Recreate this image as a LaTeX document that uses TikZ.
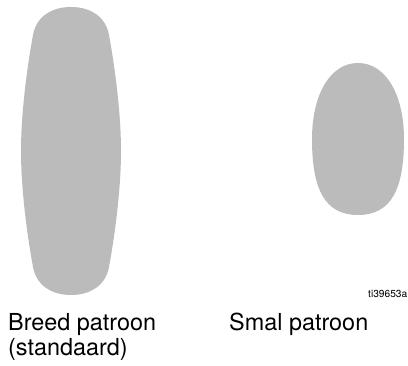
\documentclass[tikz,border=0pt]{standalone}
\usepackage{fontspec}
\setmainfont{TeX Gyre Heros}
\definecolor{patgray}{RGB}{187,187,187}
\begin{document}
\begin{tikzpicture}[x=1pt,y=-1pt,
  patshape/.style={fill=patgray,draw=none},
  label/.style={inner sep=0pt,anchor=base west,font=\fontsize{23.4}{25}\selectfont},
  tag/.style={inner sep=0pt,anchor=base east,font=\fontsize{10.2}{11}\selectfont}]
\useasboundingbox (0,0) rectangle (408,366);
% wide pattern
\path[patshape] (71,7) .. controls (92,7) and (106,18) .. (109,35)
  .. controls (114,62) and (121,110) .. (121,151)
  .. controls (121,192) and (114,240) .. (109,267)
  .. controls (106,284) and (92,295) .. (71,295)
  .. controls (50,295) and (36,284) .. (33,267)
  .. controls (28,240) and (21,192) .. (21,151)
  .. controls (21,110) and (28,62) .. (33,35)
  .. controls (36,18) and (50,7) .. (71,7) -- cycle;
% narrow pattern
\path[patshape] (358,63) .. controls (386,63) and (404,95) .. (404,139)
  .. controls (404,188) and (392,215) .. (358,215)
  .. controls (324,215) and (312,188) .. (312,139)
  .. controls (312,95) and (330,63) .. (358,63) -- cycle;
\node[label] (breed1) at (8,331) {Breed patroon};
\node[label] (breed2) at (8,356) {(standaard)};
\node[label] (smal) at (229,331) {Smal patroon};
\node[tag] (ref) at (407.5,298) {ti39653a};
\end{tikzpicture}
\end{document}
